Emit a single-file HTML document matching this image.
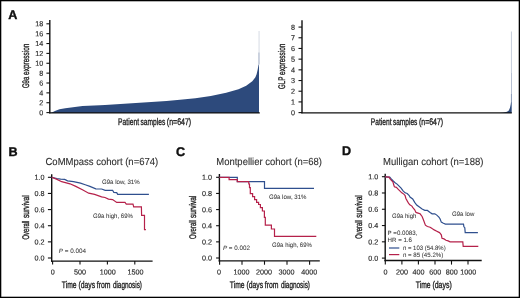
<!DOCTYPE html>
<html><head><meta charset="utf-8">
<style>
html,body{margin:0;padding:0;background:#fff;}
body{width:520px;height:298px;overflow:hidden;}
svg{display:block;will-change:transform;text-rendering:geometricPrecision;font-family:"Liberation Sans",sans-serif;}
.ax{stroke:#111;stroke-width:1.4;fill:none;}
.tk{stroke:#111;stroke-width:1.1;fill:none;}
.tl{font-size:7.2px;fill:#2a2a2a;stroke:#2a2a2a;stroke-width:0.15;}
.cl{font-size:9.6px;fill:#1e1e1e;stroke:#1e1e1e;stroke-width:0.35;}
.ti{font-size:10.2px;fill:#2e2e2e;stroke:#2e2e2e;stroke-width:0.1;}
.an{font-size:6.3px;fill:#383838;stroke:#383838;stroke-width:0.05;}
.pl{font-size:12.6px;font-weight:bold;fill:#111;stroke:#111;stroke-width:0.4;}
.bl{stroke:#2f4f8e;stroke-width:1.2;fill:none;}
.rd{stroke:#b5214a;stroke-width:1.2;fill:none;}
</style></head>
<body>
<svg width="520" height="298" viewBox="0 0 520 298">
<rect x="0" y="0" width="520" height="298" fill="#fff"/>

<!-- ===== Panel A ===== -->
<text class="pl" x="8.2" y="18.7">A</text>

<!-- A left chart -->
<path fill="#2d4a7c" d="M50,112.9 L52,112.4 L54.9,111.0 L59.5,109.2 L65.3,108.3 L71.1,107.5 L76.8,106.7 L82.6,106.1 L88.4,105.8 L94.1,105.4 L99.9,105.2 L105,105.0 L120.4,103.9 L135.8,103.0 L151.2,101.9 L166.5,100.9 L180,99.7 L195.4,98.2 L210.8,95.9 L226.2,92.8 L238.5,89.2 L246.2,85.8 L252.3,81.2 L255.4,77.3 L256.6,74.2 L257.6,70 L258.5,65 L259,64.2 L259,112.9 Z"/>
<rect x="258.5" y="52.5" width="0.95" height="12" fill="#2d4a7c" opacity="0.5"/>
<rect x="258.6" y="31" width="0.9" height="21.5" fill="#2d4a7c" opacity="0.22"/>
<line class="ax" x1="49.8" y1="20" x2="49.8" y2="113.3"/>
<line class="ax" x1="49.1" y1="112.9" x2="259.8" y2="112.9"/>
<g class="tk">
<line x1="46.4" y1="112.60" x2="49.8" y2="112.60"/>
<line x1="46.4" y1="102.73" x2="49.8" y2="102.73"/>
<line x1="46.4" y1="92.87" x2="49.8" y2="92.87"/>
<line x1="46.4" y1="83.00" x2="49.8" y2="83.00"/>
<line x1="46.4" y1="73.14" x2="49.8" y2="73.14"/>
<line x1="46.4" y1="63.27" x2="49.8" y2="63.27"/>
<line x1="46.4" y1="53.40" x2="49.8" y2="53.40"/>
<line x1="46.4" y1="43.54" x2="49.8" y2="43.54"/>
<line x1="46.4" y1="33.67" x2="49.8" y2="33.67"/>
<line x1="46.4" y1="23.81" x2="49.8" y2="23.81"/>
</g>
<g class="tl" text-anchor="end">
<text x="43.2" y="115.18" transform="rotate(0.05 43.2 115.18)">0</text>
<text x="43.2" y="105.31" transform="rotate(0.05 43.2 105.31)">2</text>
<text x="43.2" y="95.45" transform="rotate(0.05 43.2 95.45)">4</text>
<text x="43.2" y="85.58" transform="rotate(0.05 43.2 85.58)">6</text>
<text x="43.2" y="75.72" transform="rotate(0.05 43.2 75.72)">8</text>
<text x="43.2" y="65.85" transform="rotate(0.05 43.2 65.85)">10</text>
<text x="43.2" y="55.98" transform="rotate(0.05 43.2 55.98)">12</text>
<text x="43.2" y="46.12" transform="rotate(0.05 43.2 46.12)">14</text>
<text x="43.2" y="36.25" transform="rotate(0.05 43.2 36.25)">16</text>
<text x="43.2" y="26.39" transform="rotate(0.05 43.2 26.39)">18</text>
</g>
<text class="cl" transform="translate(29.1,88.05) rotate(-90)" textLength="11.30" lengthAdjust="spacingAndGlyphs">G9a</text><text class="cl" transform="translate(29.1,74.95) rotate(-90)" textLength="31.30" lengthAdjust="spacingAndGlyphs">expression</text>
<text class="cl" x="118.10" y="124.5" textLength="20.90" lengthAdjust="spacingAndGlyphs">Patient</text><text class="cl" x="140.50" y="124.5" textLength="24.70" lengthAdjust="spacingAndGlyphs">samples</text><text class="cl" x="166.80" y="124.5" textLength="24.40" lengthAdjust="spacingAndGlyphs">(n=647)</text>

<!-- A right chart -->
<path fill="#2d4a7c" d="M302,112.9 L500,112.9 L503,112.7 L505,112.3 L507,111.7 L508.8,110.4 L510,107.8 L510.7,104.5 L511,102.3 L511.7,102.3 L511.7,112.9 Z"/>
<rect x="510.95" y="94" width="0.75" height="8.5" fill="#2d4a7c" opacity="0.75"/>
<rect x="511" y="73" width="0.7" height="21" fill="#2d4a7c" opacity="0.5"/>
<rect x="510.95" y="31.5" width="0.8" height="41.5" fill="#2d4a7c" opacity="0.34"/>
<line class="ax" x1="302" y1="20.2" x2="302" y2="113.3"/>
<line class="ax" x1="301.3" y1="112.9" x2="511.8" y2="112.9"/>
<g class="tk">
<line x1="298.5" y1="112.6" x2="302" y2="112.6"/>
<line x1="298.5" y1="101.91" x2="302" y2="101.91"/>
<line x1="298.5" y1="91.22" x2="302" y2="91.22"/>
<line x1="298.5" y1="80.53" x2="302" y2="80.53"/>
<line x1="298.5" y1="69.84" x2="302" y2="69.84"/>
<line x1="298.5" y1="59.15" x2="302" y2="59.15"/>
<line x1="298.5" y1="48.46" x2="302" y2="48.46"/>
<line x1="298.5" y1="37.77" x2="302" y2="37.77"/>
<line x1="298.5" y1="27.08" x2="302" y2="27.08"/>
</g>
<g class="tl" text-anchor="end">
<text x="295.0" y="115.18" transform="rotate(0.05 295.0 115.18)">0</text>
<text x="295.0" y="104.49" transform="rotate(0.05 295.0 104.49)">1</text>
<text x="295.0" y="93.80" transform="rotate(0.05 295.0 93.80)">2</text>
<text x="295.0" y="83.11" transform="rotate(0.05 295.0 83.11)">3</text>
<text x="295.0" y="72.42" transform="rotate(0.05 295.0 72.42)">4</text>
<text x="295.0" y="61.73" transform="rotate(0.05 295.0 61.73)">5</text>
<text x="295.0" y="51.04" transform="rotate(0.05 295.0 51.04)">6</text>
<text x="295.0" y="40.35" transform="rotate(0.05 295.0 40.35)">7</text>
<text x="295.0" y="29.66" transform="rotate(0.05 295.0 29.66)">8</text>
</g>
<text class="cl" transform="translate(285.2,89.05) rotate(-90)" textLength="12.30" lengthAdjust="spacingAndGlyphs">GLP</text><text class="cl" transform="translate(285.2,74.95) rotate(-90)" textLength="31.30" lengthAdjust="spacingAndGlyphs">expression</text>
<text class="cl" x="370.80" y="124.5" textLength="20.68" lengthAdjust="spacingAndGlyphs">Patient</text><text class="cl" x="392.95" y="124.5" textLength="24.44" lengthAdjust="spacingAndGlyphs">samples</text><text class="cl" x="418.96" y="124.5" textLength="24.14" lengthAdjust="spacingAndGlyphs">(n=647)</text>

<!-- ===== Panel B ===== -->
<text class="pl" x="8.6" y="155.7">B</text>
<text class="ti" x="45.5" y="165.2" textLength="112.7" lengthAdjust="spacingAndGlyphs">CoMMpass cohort (n=674)</text>
<line class="ax" x1="51.7" y1="174.2" x2="51.7" y2="261.8"/>
<line class="ax" x1="51" y1="261.1" x2="152.6" y2="261.1"/>
<g class="tk">
<line x1="47.9" y1="258" x2="51.7" y2="258"/>
<line x1="47.9" y1="241.86" x2="51.7" y2="241.86"/>
<line x1="47.9" y1="225.72" x2="51.7" y2="225.72"/>
<line x1="47.9" y1="209.58" x2="51.7" y2="209.58"/>
<line x1="47.9" y1="193.44" x2="51.7" y2="193.44"/>
<line x1="47.9" y1="177.3" x2="51.7" y2="177.3"/>
<line x1="52.6" y1="261" x2="52.6" y2="264.6"/>
<line x1="80" y1="261" x2="80" y2="264.6"/>
<line x1="107.4" y1="261" x2="107.4" y2="264.6"/>
<line x1="134.8" y1="261" x2="134.8" y2="264.6"/>
</g>
<g class="tl" text-anchor="end">
<text x="44.6" y="260.58" transform="rotate(0.05 44.6 260.58)">0.0</text>
<text x="44.6" y="244.44" transform="rotate(0.05 44.6 244.44)">0.2</text>
<text x="44.6" y="228.30" transform="rotate(0.05 44.6 228.30)">0.4</text>
<text x="44.6" y="212.16" transform="rotate(0.05 44.6 212.16)">0.6</text>
<text x="44.6" y="196.02" transform="rotate(0.05 44.6 196.02)">0.8</text>
<text x="44.6" y="179.88" transform="rotate(0.05 44.6 179.88)">1.0</text>
</g>
<g class="tl" text-anchor="middle">
<text x="52.8" y="274.6" transform="rotate(0.05 52.8 274.6)">0</text>
<text x="80.1" y="274.6" transform="rotate(0.05 80.1 274.6)">500</text>
<text x="107.8" y="274.6" transform="rotate(0.05 107.8 274.6)">1000</text>
<text x="135.4" y="274.6" transform="rotate(0.05 135.4 274.6)">1500</text>
</g>
<text class="cl" x="61.80" y="287.8" textLength="14.70" lengthAdjust="spacingAndGlyphs">Time</text><text class="cl" x="78.50" y="287.8" textLength="16.70" lengthAdjust="spacingAndGlyphs">(days</text><text class="cl" x="96.80" y="287.8" textLength="13.70" lengthAdjust="spacingAndGlyphs">from</text><text class="cl" x="112.90" y="287.8" textLength="29.10" lengthAdjust="spacingAndGlyphs">diagnosis)</text>
<text class="cl" transform="translate(28.6,239.55) rotate(-90)" textLength="18.90" lengthAdjust="spacingAndGlyphs">Overall</text><text class="cl" transform="translate(28.6,218.05) rotate(-90)" textLength="22.90" lengthAdjust="spacingAndGlyphs">survival</text>
<polyline class="bl" points="51.7,177.3 57,178.5 60.6,179.2 64.7,179.4 67.6,180.8 73.5,181.7 80.5,183.1 85.2,184.7 89.9,186.4 95.8,188.8 101.6,189 105.2,190.3 112.6,190.3 113.8,192.4 116.7,192.6 117.7,194.4 148.9,194.4"/>
<polyline class="rd" points="51.7,177.3 57,179.4 61.7,181.7 70,183.8 75.8,186.4 82.9,190 88.7,193.2 94.6,194.4 101.6,196.8 105,197.5 108.5,199.1 112.6,199.6 116.7,202.4 125,202.4 126.3,204.1 133,204.1 133.7,206.8 141.4,206.8 141.6,215.4 144.5,215.4 144.5,229.6 145.9,229.6"/>
<text class="an" x="101.9" y="184" textLength="37.8" lengthAdjust="spacingAndGlyphs">G9a low, 31%</text>
<text class="an" x="93" y="217.5" textLength="39.9" lengthAdjust="spacingAndGlyphs">G9a high, 69%</text>
<text class="an" x="58.8" y="253.1" textLength="27.3" lengthAdjust="spacingAndGlyphs"><tspan font-style="italic">P</tspan> = 0.004</text>

<!-- ===== Panel C ===== -->
<text class="pl" x="175.9" y="155.8">C</text>
<text class="ti" x="216.3" y="165.2" textLength="105.6" lengthAdjust="spacingAndGlyphs">Montpellier cohort (n=68)</text>
<line class="ax" x1="219.4" y1="174" x2="219.4" y2="261.6"/>
<line class="ax" x1="218.7" y1="260.9" x2="319.8" y2="260.9"/>
<g class="tk">
<line x1="216.1" y1="258" x2="219.4" y2="258"/>
<line x1="216.1" y1="241.86" x2="219.4" y2="241.86"/>
<line x1="216.1" y1="225.72" x2="219.4" y2="225.72"/>
<line x1="216.1" y1="209.58" x2="219.4" y2="209.58"/>
<line x1="216.1" y1="193.44" x2="219.4" y2="193.44"/>
<line x1="216.1" y1="177.3" x2="219.4" y2="177.3"/>
<line x1="219.6" y1="260.9" x2="219.6" y2="264.7"/>
<line x1="242" y1="260.9" x2="242" y2="264.7"/>
<line x1="264.5" y1="260.9" x2="264.5" y2="264.7"/>
<line x1="287" y1="260.9" x2="287" y2="264.7"/>
<line x1="309.6" y1="260.9" x2="309.6" y2="264.7"/>
</g>
<g class="tl" text-anchor="end">
<text x="212.1" y="260.58" transform="rotate(0.05 212.1 260.58)">0.0</text>
<text x="212.1" y="244.44" transform="rotate(0.05 212.1 244.44)">0.2</text>
<text x="212.1" y="228.30" transform="rotate(0.05 212.1 228.30)">0.4</text>
<text x="212.1" y="212.16" transform="rotate(0.05 212.1 212.16)">0.6</text>
<text x="212.1" y="196.02" transform="rotate(0.05 212.1 196.02)">0.8</text>
<text x="212.1" y="179.88" transform="rotate(0.05 212.1 179.88)">1.0</text>
</g>
<g class="tl" text-anchor="middle">
<text x="219.1" y="274.6" transform="rotate(0.05 219.1 274.6)">0</text>
<text x="241.6" y="274.6" transform="rotate(0.05 241.6 274.6)">1000</text>
<text x="264.1" y="274.6" transform="rotate(0.05 264.1 274.6)">2000</text>
<text x="286.6" y="274.6" transform="rotate(0.05 286.6 274.6)">3000</text>
<text x="309.2" y="274.6" transform="rotate(0.05 309.2 274.6)">4000</text>
</g>
<text class="cl" x="229.80" y="287.8" textLength="14.70" lengthAdjust="spacingAndGlyphs">Time</text><text class="cl" x="246.50" y="287.8" textLength="16.70" lengthAdjust="spacingAndGlyphs">(days</text><text class="cl" x="264.80" y="287.8" textLength="13.70" lengthAdjust="spacingAndGlyphs">from</text><text class="cl" x="280.90" y="287.8" textLength="29.10" lengthAdjust="spacingAndGlyphs">diagnosis)</text>
<text class="cl" transform="translate(196.4,239.05) rotate(-90)" textLength="18.90" lengthAdjust="spacingAndGlyphs">Overall</text><text class="cl" transform="translate(196.4,218.05) rotate(-90)" textLength="22.40" lengthAdjust="spacingAndGlyphs">survival</text>
<polyline class="bl" points="219.4,177.3 237.3,177.3 237.3,181.7 264.5,181.7 264.5,188.4 314,188.4"/>
<polyline class="rd" points="219.4,177.3 229.1,177.3 229.1,179.6 237.3,179.6 237.3,181.7 248.8,181.7 248.8,184 249.5,184 249.5,187.6 250.3,187.6 250.3,193.6 252.6,193.6 252.6,196.6 254.6,196.6 254.6,199.6 256.6,199.6 256.6,202.4 258.6,202.4 258.6,204.5 260.4,204.5 260.4,207.6 262.4,207.6 262.4,211 264.4,211 264.4,217.4 265.3,217.4 265.3,225.2 271.4,225.2 271.4,229 274.5,229 274.5,236.4 316.3,236.4"/>
<text class="an" x="268.9" y="198.9" textLength="37.6" lengthAdjust="spacingAndGlyphs">G9a low, 31%</text>
<text class="an" x="272.1" y="247.2" textLength="39.8" lengthAdjust="spacingAndGlyphs">G9a high, 69%</text>
<text class="an" x="222.9" y="250.4" textLength="27" lengthAdjust="spacingAndGlyphs"><tspan font-style="italic">P</tspan> = 0.002</text>

<!-- ===== Panel D ===== -->
<text class="pl" x="342" y="155">D</text>
<text class="ti" x="383.1" y="164.8" textLength="100.3" lengthAdjust="spacingAndGlyphs">Mulligan cohort (n=188)</text>
<line class="ax" x1="385.2" y1="173.8" x2="385.2" y2="261.2"/>
<line class="ax" x1="384.5" y1="260.5" x2="481.7" y2="260.5"/>
<g class="tk">
<line x1="381.9" y1="258.1" x2="385.2" y2="258.1"/>
<line x1="381.9" y1="241.82" x2="385.2" y2="241.82"/>
<line x1="381.9" y1="225.54" x2="385.2" y2="225.54"/>
<line x1="381.9" y1="209.26" x2="385.2" y2="209.26"/>
<line x1="381.9" y1="192.98" x2="385.2" y2="192.98"/>
<line x1="381.9" y1="176.7" x2="385.2" y2="176.7"/>
<line x1="385.3" y1="260.5" x2="385.3" y2="264.6"/>
<line x1="401.9" y1="260.5" x2="401.9" y2="264.6"/>
<line x1="418.4" y1="260.5" x2="418.4" y2="264.6"/>
<line x1="435" y1="260.5" x2="435" y2="264.6"/>
<line x1="451.5" y1="260.5" x2="451.5" y2="264.6"/>
<line x1="468" y1="260.5" x2="468" y2="264.6"/>
</g>
<g class="tl" text-anchor="end">
<text x="378.2" y="260.68" transform="rotate(0.05 378.2 260.68)">0.0</text>
<text x="378.2" y="244.40" transform="rotate(0.05 378.2 244.40)">0.2</text>
<text x="378.2" y="228.12" transform="rotate(0.05 378.2 228.12)">0.4</text>
<text x="378.2" y="211.84" transform="rotate(0.05 378.2 211.84)">0.6</text>
<text x="378.2" y="195.56" transform="rotate(0.05 378.2 195.56)">0.8</text>
<text x="378.2" y="179.28" transform="rotate(0.05 378.2 179.28)">1.0</text>
</g>
<g class="tl" text-anchor="middle">
<text x="385.5" y="274.4" transform="rotate(0.05 385.5 274.4)">0</text>
<text x="402.1" y="274.4" transform="rotate(0.05 402.1 274.4)">200</text>
<text x="418.6" y="274.4" transform="rotate(0.05 418.6 274.4)">400</text>
<text x="435.2" y="274.4" transform="rotate(0.05 435.2 274.4)">600</text>
<text x="451.7" y="274.4" transform="rotate(0.05 451.7 274.4)">800</text>
<text x="468.2" y="274.4" transform="rotate(0.05 468.2 274.4)">1000</text>
</g>
<text class="cl" x="415.80" y="287.6" textLength="14.80" lengthAdjust="spacingAndGlyphs">Time</text><text class="cl" x="432.40" y="287.6" textLength="19.30" lengthAdjust="spacingAndGlyphs">(days)</text>
<text class="cl" transform="translate(362.3,238.85) rotate(-90)" textLength="18.70" lengthAdjust="spacingAndGlyphs">Overall</text><text class="cl" transform="translate(362.3,217.75) rotate(-90)" textLength="22.60" lengthAdjust="spacingAndGlyphs">survival</text>
<polyline class="bl" points="385.2,176.9 389.7,177.1 391,178.7 393,180.7 395.1,182.7 397.1,184.1 399.1,186.1 401.1,188.1 403.1,190.8 405.1,192.8 407.2,193.5 409.2,195.5 410,197 412.7,199 414.7,202.4 416.7,205.1 419.4,207.1 422.1,209.1 424.8,210.4 427.4,210.4 430.1,212.4 432.1,213.8 434.8,213.8 436.8,215.1 438.9,217.1 440,218.7 441.3,222.1 443.4,223.2 445.4,224.1 463.5,224.1 463.9,226.8 464.8,227.7 465.2,232.6 477.9,232.6"/>
<polyline class="rd" points="385.2,176.9 389,177.1 390.4,179.4 391.7,180.7 393,182.1 393.7,184.8 394.4,186.8 396.4,187.4 397.8,188.8 399.8,190.8 401.8,192.8 403.8,194.1 405.1,195.5 405.8,198.2 407.2,200.9 408.5,203.2 409.8,204.8 411.9,206.1 412.7,207.3 414.7,209.8 416,212.4 418.1,213.1 420.1,213.8 422.1,216.5 423.4,219.8 425.4,225.2 427.4,226.5 430.1,227.2 432.1,228.6 434.2,229.9 436.8,231.2 439.5,232.6 440,233.1 441.3,234.8 442,238.2 444,238.9 446,240.2 448.1,240.9 450.1,241.9 462.8,241.9 463.2,246.4 478.3,246.4"/>
<text class="an" x="452" y="215.9" textLength="22.3" lengthAdjust="spacingAndGlyphs">G9a low</text>
<text class="an" x="392" y="217.5" textLength="24.3" lengthAdjust="spacingAndGlyphs">G9a high</text>
<text class="an" x="387.6" y="235" textLength="29.8" lengthAdjust="spacingAndGlyphs">P =0.0083,</text>
<text class="an" x="387.6" y="242.1" textLength="24.4" lengthAdjust="spacingAndGlyphs">HR = 1.6</text>
<line x1="389" y1="248" x2="399.3" y2="248" stroke="#2f4f8e" stroke-width="1.2"/>
<line x1="389" y1="254.6" x2="399.3" y2="254.6" stroke="#b5214a" stroke-width="1.2"/>
<text class="an" x="402.9" y="250.2" textLength="42.8" lengthAdjust="spacingAndGlyphs">n = 103 (54.8%)</text>
<text class="an" x="402.9" y="256.6" textLength="40.4" lengthAdjust="spacingAndGlyphs">n = 85 (45.2%)</text>

<!-- frame -->
<rect x="0.65" y="0.65" width="518.7" height="296.7" fill="none" stroke="#000" stroke-width="1.3"/>
</svg>
</body></html>
